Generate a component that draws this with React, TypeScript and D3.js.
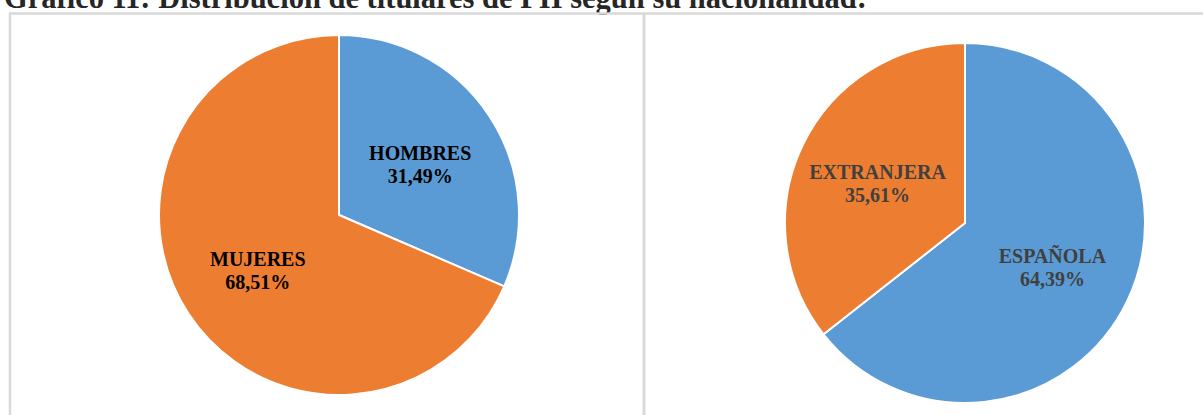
import React, { useMemo } from 'react';
import * as d3 from 'd3';

const sexLabels = ['HOMBRES', 'MUJERES'];
const sexValues = [31.49, 68.51];

const nationalityLabels = ['ESPAÑOLA', 'EXTRANJERA'];
const nationalityValues = [64.39, 35.61];

const sliceColors = ['#5B9BD5', '#ED7D31'];

const title = 'Gráfico 11: Distribución de titulares de PII según su nacionalidad:';

const fmt = (v: number) => v.toFixed(2).replace('.', ',') + '%';

function Pie({ cx, cy, labels, values, textColor }: {
  cx: number; cy: number; labels: string[]; values: number[]; textColor: string;
}) {
  const radius = 180;
  const data = labels.map((label, i) => ({ label, value: values[i], color: sliceColors[i] }));

  const arcs = useMemo(() => {
    return d3.pie<{ label: string; value: number; color: string }>()
      .value(d => d.value)
      .sort(null)(data);
  }, [labels, values]);

  const arcGen = d3.arc<any>().innerRadius(0).outerRadius(radius);
  const labelArc = d3.arc<any>().innerRadius(radius * 0.54).outerRadius(radius * 0.54);

  return (
    <g transform={`translate(${cx},${cy})`}>
      {arcs.map(a => (
        <path key={a.data.label} d={arcGen(a) || ''} fill={a.data.color} stroke="#fff" strokeWidth={2} strokeLinejoin="round" />
      ))}
      {arcs.map(a => {
        const [x, y] = labelArc.centroid(a);
        return (
          <text key={a.data.label + '-t'} textAnchor="middle" fill={textColor}
            fontFamily="'Liberation Serif', 'Times New Roman', serif" fontWeight="bold" fontSize={20}>
            <tspan x={x} y={y - 2}>{a.data.label}</tspan>
            <tspan x={x} y={y + 21}>{fmt(a.data.value)}</tspan>
          </text>
        );
      })}
    </g>
  );
}

export default function App() {
  const width = 1203;
  const height = 415;
  const border = '#d9d9d9';

  return (
    <div style={{ position: 'absolute', left: 0, top: 0, width, height, background: '#fff' }}>
      <svg width={width} height={height} viewBox={`0 0 ${width} ${height}`} style={{ display: 'block' }}>
        <rect x={0} y={0} width={width} height={height} fill="#fff" />
        <text x={4} y={8} fontFamily="'Liberation Serif', 'Times New Roman', serif" fontWeight="bold"
          fontSize={30.5} fill="#262626">{title}</text>

        {/* panel borders */}
        <line x1={9} x2={width} y1={13.5} y2={13.5} stroke={border} strokeWidth={2.5} />
        <line x1={10} x2={10} y1={13} y2={height} stroke={border} strokeWidth={2.5} />
        <line x1={644} x2={644} y1={13} y2={height} stroke={border} strokeWidth={3} />

        <Pie cx={339} cy={215} labels={sexLabels} values={sexValues} textColor="#000" />
        <Pie cx={965} cy={223} labels={nationalityLabels} values={nationalityValues} textColor="#404040" />
      </svg>
    </div>
  );
}
